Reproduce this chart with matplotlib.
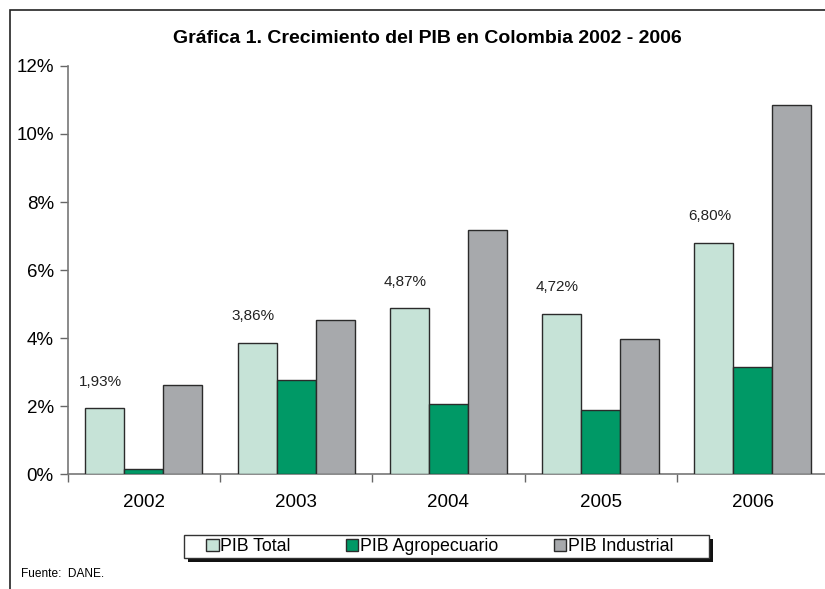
import matplotlib
matplotlib.use("Agg")
import matplotlib.pyplot as plt
import matplotlib.patches as mpatches
import numpy as np

plt.rcParams['font.family'] = ['Liberation Sans', 'DejaVu Sans']

# data (percent growth)
years = ["2002", "2003", "2004", "2005", "2006"]
pib_total = [1.93, 3.86, 4.87, 4.72, 6.80]
pib_agro = [0.16, 2.78, 2.06, 1.89, 3.16]
pib_industrial = [2.63, 4.52, 7.18, 3.97, 10.84]
total_labels = ["1,93%", "3,86%", "4,87%", "4,72%", "6,80%"]
series_names = ["PIB Total", "PIB Agropecuario", "PIB Industrial"]

colors = ["#c6e3d7", "#009966", "#a7a9ac"]

W, H = 825, 589
fig = plt.figure(figsize=(8.25, 5.89), dpi=100)
ax = fig.add_axes([0.082, 0.195, 0.923, 0.693])

x = np.arange(len(years))
w = 0.256
for k, (vals, c, name) in enumerate(zip([pib_total, pib_agro, pib_industrial], colors, series_names)):
    ax.bar(x + (k - 1) * w, vals, width=w, color=c, edgecolor="#2b2b2b",
           linewidth=1.0, label=name, zorder=3)

# labels above PIB Total bars
for xi, v, lab in zip(x, pib_total, total_labels):
    ax.annotate(lab, (xi - w, v), xytext=(-3, 14), textcoords="offset points",
                ha="center", va="bottom", fontsize=11, color="#222222")

ax.set_ylim(0, 12)
ax.set_xlim(-0.5, len(years) - 0.5)
ax.set_yticks(np.arange(0, 13, 2))
ax.set_yticklabels([f"{t}%" for t in range(0, 13, 2)], fontsize=13.5)
ax.set_xticks(x)
ax.set_xticklabels(years, fontsize=13.5)
ax.set_xticks(np.arange(-0.5, len(years), 1.0), minor=True)
ax.tick_params(axis="x", which="major", length=0, pad=14)
ax.tick_params(axis="x", which="minor", length=6, width=1, color="#666666", direction="out")
ax.tick_params(axis="y", length=6, width=1, color="#666666", pad=4)

for s in ["top", "right"]:
    ax.spines[s].set_visible(False)
for s in ["left", "bottom"]:
    ax.spines[s].set_color("#777777")
    ax.spines[s].set_linewidth(1.2)
ax.spines["bottom"].set_clip_on(False)

# title
fig.text(0.518, 0.935, "Gráfica 1. Crecimiento del PIB en Colombia 2002 - 2006",
         ha="center", va="center", fontsize=14, fontweight="bold")

# legend box with shadow, drawn separately
box_x0, box_x1 = 184 / W, 709 / W
box_y0, box_y1 = 1 - 558 / H, 1 - 535 / H
shadow = mpatches.Rectangle((box_x0 + 4 / W, box_y0 - 4 / H), box_x1 - box_x0, box_y1 - box_y0,
                            transform=fig.transFigure, facecolor="#111111",
                            edgecolor="none", zorder=1)
box = mpatches.Rectangle((box_x0, box_y0), box_x1 - box_x0, box_y1 - box_y0,
                         transform=fig.transFigure, facecolor="white",
                         edgecolor="#333333", linewidth=1.0, zorder=2)
fig.add_artist(shadow)
fig.add_artist(box)

leg = fig.legend(loc="center", bbox_to_anchor=(0.533, 1 - 546.5 / H), ncol=3,
                 fontsize=12.8, frameon=False,
                 handlelength=0.7, handleheight=0.7, handletextpad=0.1,
                 columnspacing=3.1, borderpad=0, borderaxespad=0)
leg.set_zorder(3)

# source
fig.text(0.026, 1 - 574 / H, "Fuente:  DANE.", fontsize=8.6, va="center", ha="left")

# outer frame (top and left edges visible)
frame = mpatches.Rectangle((10 / W, -0.1), 1.2, 1.1 - 10 / H, transform=fig.transFigure,
                           fill=False, edgecolor="#222222", linewidth=1.2)
fig.add_artist(frame)

fig.savefig("out.png", dpi=100)
